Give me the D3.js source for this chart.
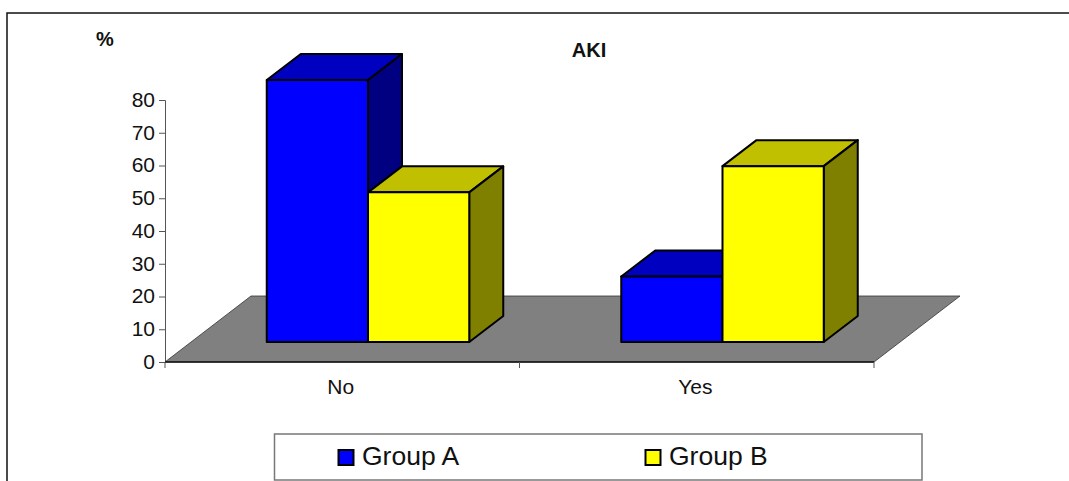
<!DOCTYPE html>
<html>
<head>
<meta charset="utf-8">
<script src="https://cdn.jsdelivr.net/npm/d3@7"></script>
<style>
html,body{margin:0;padding:0;background:#fff;overflow:hidden}
svg{display:block}
text{font-family:"Liberation Sans",Arial,sans-serif;fill:#111}
</style>
</head>
<body>
<div id="chart"></div>
<script>
const categories = ["No", "Yes"];
const seriesNames = ["Group A", "Group B"];
const groupA = [80, 20];
const groupB = [45.7, 53.7];
const yTicks = [0, 10, 20, 30, 40, 50, 60, 70, 80];
const title = "AKI";
const yTitle = "%";
const faceColors = {
  "Group A": {front: "#0000ff", top: "#0000c0", side: "#000080"},
  "Group B": {front: "#ffff00", top: "#c0c000", side: "#808000"}
};

const W = 1069, H = 481;
const svg = d3.select("#chart").append("svg").attr("width", W).attr("height", H);

const y = d3.scaleLinear().domain([0, 80]).range([362, 100]);
const x = d3.scaleBand().domain(categories).range([165, 874]);
const inner = d3.scaleBand().domain(seriesNames).range([0, 202.5]);

// projection of the depth axis
const floorDx = 86, floorDy = 66;
const barLift = 20, barShift = 26, barDx = 34, barDy = 26;
const groupOffset = x.bandwidth() / 2 - 101.5 + barShift;

// outer frame (open to the right and bottom)
svg.append("path")
  .attr("d", d3.line()([[W, 13], [7, 13], [7, H]]))
  .attr("fill", "none").attr("stroke", "#111").attr("stroke-width", 1.5);

// floor
const [x0, x1] = x.range();
svg.append("polygon")
  .attr("points", [[x0, y(0)], [x1, y(0)], [x1 + floorDx, y(0) - floorDy], [x0 + floorDx, y(0) - floorDy]].join(" "))
  .attr("fill", "#808080").attr("stroke", "#333").attr("stroke-width", 0.8);

// axes
const yAxis = svg.append("g").attr("transform", `translate(${x0},0)`)
  .call(d3.axisLeft(y).tickValues(yTicks).tickSize(6).tickPadding(4));
yAxis.selectAll("text").style("font-size", "21px").attr("dy", "0.3em").attr("fill", "#111")
  .style("font-family", '"Liberation Sans",Arial,sans-serif');
yAxis.selectAll("line,path").attr("stroke", "#555");

const xAxis = svg.append("g").attr("transform", `translate(0,${y(0)})`)
  .call(d3.axisBottom(x).tickSize(0).tickPadding(0));
xAxis.select("path").remove();
xAxis.selectAll("text").attr("dy", null).attr("y", 32)
  .attr("dx", -1.5)
  .style("font-size", "21px").attr("fill", "#111")
  .style("font-family", '"Liberation Sans",Arial,sans-serif');
svg.append("line").attr("x1", x0).attr("x2", x1).attr("y1", y(0)).attr("y2", y(0))
  .attr("stroke", "#111").attr("stroke-width", 1.5);
const boundaries = [x0, x("Yes"), x1];
svg.selectAll(".xt").data(boundaries).join("line").attr("class", "xt")
  .attr("x1", d => d).attr("x2", d => d)
  .attr("y1", y(0)).attr("y2", y(0) + 6).attr("stroke", "#555");

// bars
const values = {"Group A": groupA, "Group B": groupB};
const bars = categories.flatMap((c, i) => seriesNames.map(s => ({c, s, v: values[s][i]})));
const barG = svg.append("g").attr("stroke", "#000").attr("stroke-width", 2).attr("stroke-linejoin", "round");
bars.forEach(b => {
  const left = x(b.c) + groupOffset + inner(b.s);
  const right = left + inner.bandwidth();
  const base = y(0) - barLift;
  const top = base - (y(0) - y(b.v));
  const col = faceColors[b.s];
  barG.append("polygon")
    .attr("points", [[left, top], [right, top], [right + barDx, top - barDy], [left + barDx, top - barDy]].join(" "))
    .attr("fill", col.top);
  barG.append("polygon")
    .attr("points", [[right, top], [right + barDx, top - barDy], [right + barDx, base - barDy], [right, base]].join(" "))
    .attr("fill", col.side);
  barG.append("rect")
    .attr("x", left).attr("y", top).attr("width", right - left).attr("height", base - top)
    .attr("fill", col.front);
});

// titles
svg.append("text").attr("x", 589).attr("y", 57).attr("text-anchor", "middle")
  .style("font-size", "20px").style("font-weight", "bold").text(title);
svg.append("text").attr("x", 105).attr("y", 46).attr("text-anchor", "middle")
  .style("font-size", "20px").style("font-weight", "bold").text(yTitle);

// legend
svg.append("rect").attr("x", 274.5).attr("y", 434).attr("width", 647.5).attr("height", 46)
  .attr("fill", "#fff").attr("stroke", "#777").attr("stroke-width", 1.5);
const legendX = d3.scaleOrdinal().domain(seriesNames).range([338, 645]);
const lg = svg.selectAll(".lg").data(seriesNames).join("g").attr("class", "lg")
  .attr("transform", d => `translate(${legendX(d)},0)`);
lg.append("rect").attr("x", 0.5).attr("y", 450).attr("width", 15).attr("height", 15)
  .attr("fill", d => faceColors[d].front).attr("stroke", "#000").attr("stroke-width", 2);
lg.append("text").attr("x", 24).attr("y", 465).style("font-size", "26.5px").text(d => d);
</script>
</body>
</html>
